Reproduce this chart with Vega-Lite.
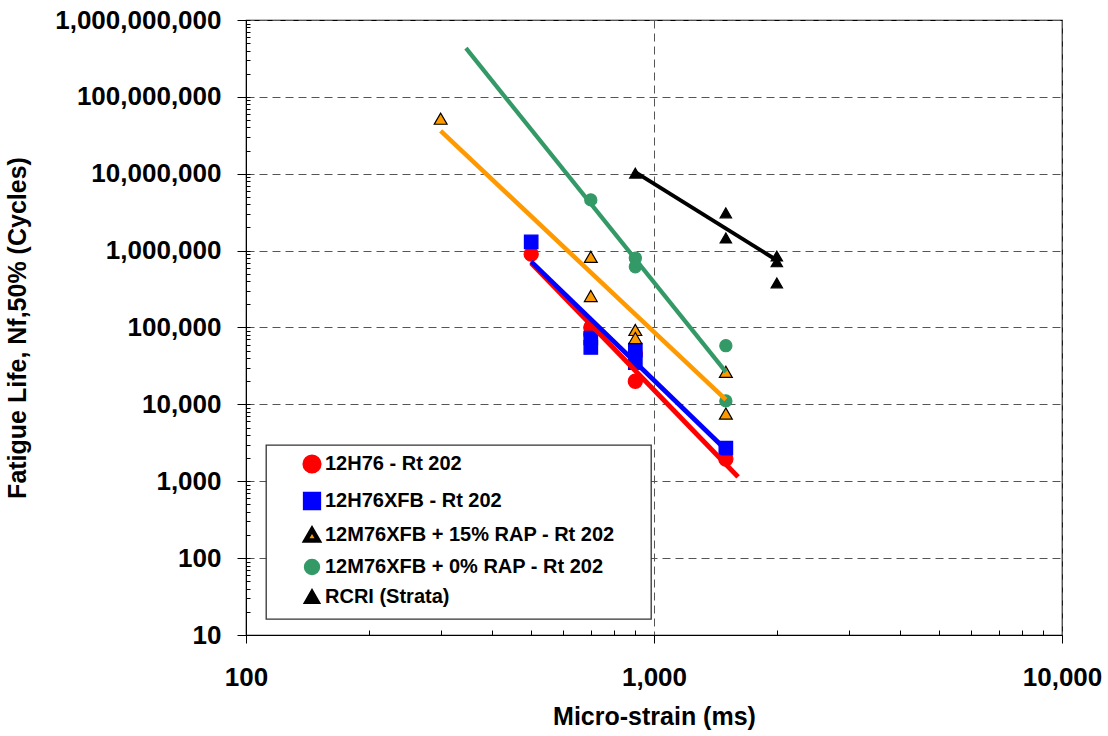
{
  "$schema": "https://vega.github.io/schema/vega-lite/v6.json",
  "width": 816,
  "height": 615,
  "autosize": {"type": "none"},
  "padding": {"left": 246, "top": 20, "right": 46, "bottom": 101},
  "background": "white",
  "config": {
    "view": {"stroke": "black", "strokeWidth": 1.2},
    "font": "Liberation Sans",
    "axis": {
      "labelFont": "Liberation Sans", "labelFontSize": 26, "labelFontWeight": "bold", "labelColor": "black",
      "titleFont": "Liberation Sans", "titleFontSize": 25, "titleFontWeight": "bold", "titleColor": "black",
      "domainColor": "black", "tickColor": "black", "gridColor": "#555555", "gridDash": [8, 5], "gridWidth": 1
    },
    "legend": {
      "orient": "none", "legendX": 20, "legendY": 425,
      "strokeColor": "#333333", "strokeWidth": 1.3, "fillColor": "white", "padding": 9,
      "labelFont": "Liberation Sans", "labelFontSize": 20, "labelFontWeight": "bold", "labelColor": "black",
      "labelLimit": 500, "rowPadding": 2, "symbolOffset": 27, "labelOffset": 3, "symbolStrokeWidth": 1.2,
      "titleOrient": "right", "titleOpacity": 0, "titleFontSize": 20, "titlePadding": 0, "titleFont": "Liberation Sans", "titleFontWeight": "bold"
    }
  },
  "datasets": {
    "points": [
      {"series": "12H76 - Rt 202", "strain": 500, "cycles": 900000},
      {"series": "12H76 - Rt 202", "strain": 700, "cycles": 100000},
      {"series": "12H76 - Rt 202", "strain": 700, "cycles": 82000},
      {"series": "12H76 - Rt 202", "strain": 900, "cycles": 46000},
      {"series": "12H76 - Rt 202", "strain": 900, "cycles": 20000},
      {"series": "12H76 - Rt 202", "strain": 1500, "cycles": 1950},
      {"series": "12H76XFB - Rt 202", "strain": 500, "cycles": 1300000},
      {"series": "12H76XFB - Rt 202", "strain": 700, "cycles": 73000},
      {"series": "12H76XFB - Rt 202", "strain": 700, "cycles": 55000},
      {"series": "12H76XFB - Rt 202", "strain": 900, "cycles": 51000},
      {"series": "12H76XFB - Rt 202", "strain": 900, "cycles": 35000},
      {"series": "12H76XFB - Rt 202", "strain": 1500, "cycles": 2700},
      {"series": "12M76XFB + 15% RAP - Rt 202", "strain": 300, "cycles": 52000000},
      {"series": "12M76XFB + 15% RAP - Rt 202", "strain": 700, "cycles": 830000},
      {"series": "12M76XFB + 15% RAP - Rt 202", "strain": 700, "cycles": 257000},
      {"series": "12M76XFB + 15% RAP - Rt 202", "strain": 900, "cycles": 93000},
      {"series": "12M76XFB + 15% RAP - Rt 202", "strain": 900, "cycles": 73000},
      {"series": "12M76XFB + 15% RAP - Rt 202", "strain": 1500, "cycles": 26500},
      {"series": "12M76XFB + 15% RAP - Rt 202", "strain": 1500, "cycles": 7600},
      {"series": "12M76XFB + 0% RAP - Rt 202", "strain": 700, "cycles": 4570000},
      {"series": "12M76XFB + 0% RAP - Rt 202", "strain": 900, "cycles": 800000},
      {"series": "12M76XFB + 0% RAP - Rt 202", "strain": 900, "cycles": 616000},
      {"series": "12M76XFB + 0% RAP - Rt 202", "strain": 1500, "cycles": 58000},
      {"series": "12M76XFB + 0% RAP - Rt 202", "strain": 1500, "cycles": 11100},
      {"series": "RCRI (Strata)", "strain": 900, "cycles": 10200000},
      {"series": "RCRI (Strata)", "strain": 1500, "cycles": 3100000},
      {"series": "RCRI (Strata)", "strain": 1500, "cycles": 1460000},
      {"series": "RCRI (Strata)", "strain": 2000, "cycles": 850000},
      {"series": "RCRI (Strata)", "strain": 2000, "cycles": 715000},
      {"series": "RCRI (Strata)", "strain": 2000, "cycles": 380000}
    ],
    "fits": [
      {"fit": "12H76 - Rt 202", "strain": 500, "cycles": 690000},
      {"fit": "12H76 - Rt 202", "strain": 1607, "cycles": 1140},
      {"fit": "12H76XFB - Rt 202", "strain": 500, "cycles": 720000},
      {"fit": "12H76XFB - Rt 202", "strain": 1500, "cycles": 2570},
      {"fit": "12M76XFB + 15% RAP - Rt 202", "strain": 300, "cycles": 36000000},
      {"fit": "12M76XFB + 15% RAP - Rt 202", "strain": 1500, "cycles": 11500},
      {"fit": "12M76XFB + 0% RAP - Rt 202", "strain": 346, "cycles": 430000000},
      {"fit": "12M76XFB + 0% RAP - Rt 202", "strain": 1500, "cycles": 26500},
      {"fit": "RCRI (Strata)", "strain": 900, "cycles": 10500000},
      {"fit": "RCRI (Strata)", "strain": 2000, "cycles": 750000}
    ]
  },
  "layer": [
    {
      "data": {"name": "points"},
      "mark": {"type": "point", "filled": true, "opacity": 1, "strokeWidth": 1.2},
      "encoding": {
        "x": {
          "field": "strain", "type": "quantitative",
          "scale": {"type": "log", "domain": [100, 10000], "nice": false},
          "axis": {"orient": "bottom", "values": [100, 1000, 10000], "format": ",", "grid": true, "tickSize": 8, "labelPadding": 21, "title": "Micro-strain (ms)", "titlePadding": 14, "labelFlush": false}
        },
        "y": {
          "field": "cycles", "type": "quantitative",
          "scale": {"type": "log", "domain": [10, 1000000000], "nice": false},
          "axis": {"orient": "left", "values": [10, 100, 1000, 10000, 100000, 1000000, 10000000, 100000000, 1000000000], "format": ",", "grid": true, "tickSize": 9, "labelPadding": 16, "title": "Fatigue Life, Nf,50% (Cycles)", "titlePadding": 24, "labelFlush": false}
        },
        "fill": {
          "field": "series", "type": "nominal",
          "scale": {"domain": ["12H76 - Rt 202", "12H76XFB - Rt 202", "12M76XFB + 15% RAP - Rt 202", "12M76XFB + 0% RAP - Rt 202", "RCRI (Strata)"],
                    "range": ["#FF0000", "#0000FF", "#FF9900", "#339966", "#000000"]},
          "legend": {"title": "XX"}
        },
        "stroke": {
          "field": "series", "type": "nominal",
          "scale": {"domain": ["12H76 - Rt 202", "12H76XFB - Rt 202", "12M76XFB + 15% RAP - Rt 202", "12M76XFB + 0% RAP - Rt 202", "RCRI (Strata)"],
                    "range": ["#FF0000", "#0000FF", "#000000", "#339966", "#000000"]},
          "legend": {"title": "XX"}
        },
        "shape": {
          "field": "series", "type": "nominal",
          "scale": {"domain": ["12H76 - Rt 202", "12H76XFB - Rt 202", "12M76XFB + 15% RAP - Rt 202", "12M76XFB + 0% RAP - Rt 202", "RCRI (Strata)"],
                    "range": ["circle", "square", "triangle-up", "circle", "triangle-up"]},
          "legend": {"title": "XX"}
        },
        "size": {
          "field": "series", "type": "nominal",
          "scale": {"domain": ["12H76 - Rt 202", "12H76XFB - Rt 202", "12M76XFB + 15% RAP - Rt 202", "12M76XFB + 0% RAP - Rt 202", "RCRI (Strata)"],
                    "range": [200, 130, 160, 150, 160]},
          "legend": {"title": "XX"}
        }
      }
    },
    {
      "data": {"name": "fits"},
      "mark": {"type": "line", "strokeCap": "butt"},
      "encoding": {
        "x": {
          "field": "strain", "type": "quantitative",
          "axis": {"orient": "bottom", "values": [200, 300, 400, 500, 600, 700, 800, 900, 2000, 3000, 4000, 5000, 6000, 7000, 8000, 9000], "labels": false, "domain": false, "grid": false, "tickSize": -5, "title": null}
        },
        "y": {
          "field": "cycles", "type": "quantitative",
          "axis": {"orient": "left", "values": [10,20,30,40,50,60,70,80,90,100,200,300,400,500,600,700,800,900,1000,2000,3000,4000,5000,6000,7000,8000,9000,10000,20000,30000,40000,50000,60000,70000,80000,90000,100000,200000,300000,400000,500000,600000,700000,800000,900000,1000000,2000000,3000000,4000000,5000000,6000000,7000000,8000000,9000000,10000000,20000000,30000000,40000000,50000000,60000000,70000000,80000000,90000000,100000000,200000000,300000000,400000000,500000000,600000000,700000000,800000000,900000000,1000000000], "labels": false, "domain": false, "grid": false, "tickSize": -4, "title": null}
        },
        "color": {
          "field": "fit", "type": "nominal",
          "scale": {"domain": ["12H76 - Rt 202", "12H76XFB - Rt 202", "12M76XFB + 15% RAP - Rt 202", "12M76XFB + 0% RAP - Rt 202", "RCRI (Strata)"],
                    "range": ["#FF0000", "#0000FF", "#FF9900", "#339966", "#000000"]},
          "legend": null
        },
        "strokeWidth": {
          "field": "fit", "type": "nominal",
          "scale": {"domain": ["12H76 - Rt 202", "12H76XFB - Rt 202", "12M76XFB + 15% RAP - Rt 202", "12M76XFB + 0% RAP - Rt 202", "RCRI (Strata)"],
                    "range": [5, 4, 4, 3.2, 4]},
          "legend": null
        }
      }
    }
  ],
  "resolve": {"axis": {"x": "independent", "y": "independent"}}
}
